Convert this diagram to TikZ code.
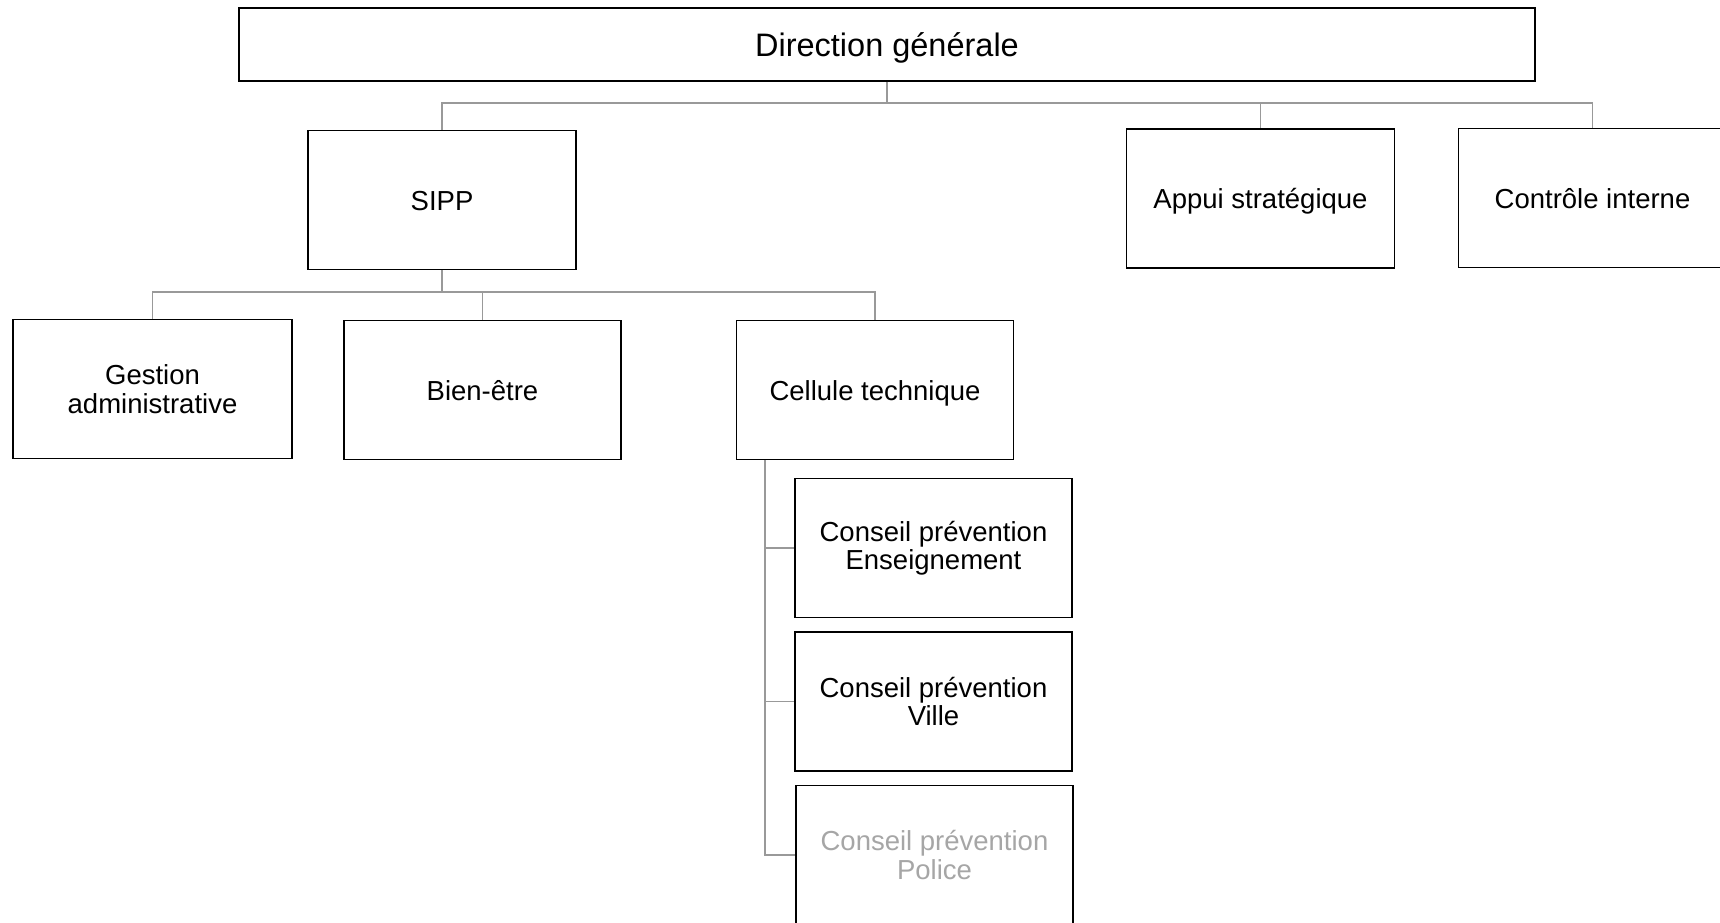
\documentclass[tikz,border=0pt]{standalone}
\usepackage{fontspec}
\setmainfont{Liberation Sans}
\begin{document}
\begin{tikzpicture}[x=1pt, y=-1pt,
  box/.style={draw=black, line width=1.2pt, fill=white, inner sep=0pt, align=center,
    minimum width=277pt, minimum height=139pt, font=\fontsize{27.5}{28.5}\selectfont},
  oneline/.style={text height=20pt, text depth=0pt},
  link/.style={draw=gray!80, line width=1.6pt}]
  \useasboundingbox (0,0) rectangle (1720,922);
  \clip (0,0) rectangle (1720,922);
  \node[box, minimum width=1296pt, minimum height=73pt, text height=23pt, text depth=0pt,
    font=\fontsize{32.5}{34}\selectfont] (dg) at (887,44.5) {Direction générale};
  \node[box, oneline, minimum width=268pt] (sipp) at (442,200) {SIPP};
  \node[box, oneline, minimum width=268pt] (appui) at (1260.5,198.5) {Appui stratégique};
  \node[box, oneline, minimum width=268pt] (ctrl) at (1592.5,198) {Contrôle interne};
  \node[box, minimum width=279pt] (gestion) at (152.5,389) {Gestion\\administrative};
  \node[box, oneline] (bien) at (482.5,390) {Bien-être};
  \node[box, oneline] (cellule) at (875,390) {Cellule technique};
  \node[box] (ens) at (933.5,548) {Conseil prévention\\Enseignement};
  \node[box] (ville) at (933.5,701.5) {Conseil prévention\\Ville};
  \node[box, text=gray!70] (police) at (934.5,855) {Conseil prévention\\Police};
  % liens
  \coordinate (bus1) at (887,103);
  \draw[link] (dg.south) -- (bus1) -| (sipp.north);
  \draw[link] (bus1) -| (appui.north);
  \draw[link] (bus1) -| (ctrl.north);
  \coordinate (bus2) at (442,292);
  \draw[link] (sipp.south) -- (bus2) -| (gestion.north);
  \draw[link] (bus2) -| (bien.north);
  \draw[link] (bus2) -| (cellule.north);
  \coordinate (spine) at (765,460);
  \draw[link] (spine) |- (ens.west);
  \draw[link] (spine) |- (ville.west);
  \draw[link] (spine) |- (police.west);
\end{tikzpicture}
\end{document}
